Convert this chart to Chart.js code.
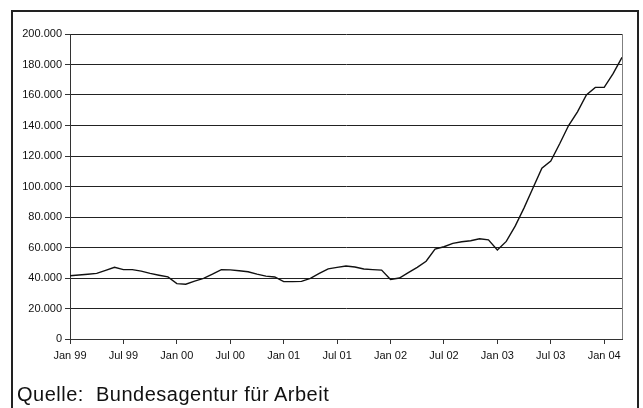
<!DOCTYPE html>
<html>
<head>
<meta charset="utf-8">
<script src="https://cdn.jsdelivr.net/npm/chart.js@4.4.1/dist/chart.umd.min.js"></script>
<style>
  html, body { margin: 0; padding: 0; background: #fff; width: 643px; height: 408px; overflow: hidden; }
  #wrap { position: relative; width: 643px; height: 408px; }
  #frame { position: absolute; left: 11px; top: 10px; width: 624px; height: 420px; border: 2px solid #222; border-bottom: none; box-sizing: content-box; }
  canvas { position: absolute; left: 0; top: 0; }
  #source { position: absolute; left: 17px; top: 383px; font-family: "Liberation Sans", Arial, sans-serif; font-size: 20px; color: #111; white-space: pre; letter-spacing: 0.5px; }
</style>
</head>
<body>
<div id="wrap">
  <div id="frame"></div>
  <canvas id="c" width="643" height="408"></canvas>
  <div id="source">Quelle:  Bundesagentur für Arbeit</div>
</div>
<script>
// Months Jan 1999 – Mar 2004
const months = [
  'Jan 99','Feb 99','Mrz 99','Apr 99','Mai 99','Jun 99','Jul 99','Aug 99','Sep 99','Okt 99','Nov 99','Dez 99',
  'Jan 00','Feb 00','Mrz 00','Apr 00','Mai 00','Jun 00','Jul 00','Aug 00','Sep 00','Okt 00','Nov 00','Dez 00',
  'Jan 01','Feb 01','Mrz 01','Apr 01','Mai 01','Jun 01','Jul 01','Aug 01','Sep 01','Okt 01','Nov 01','Dez 01',
  'Jan 02','Feb 02','Mrz 02','Apr 02','Mai 02','Jun 02','Jul 02','Aug 02','Sep 02','Okt 02','Nov 02','Dez 02',
  'Jan 03','Feb 03','Mrz 03','Apr 03','Mai 03','Jun 03','Jul 03','Aug 03','Sep 03','Okt 03','Nov 03','Dez 03',
  'Jan 04','Feb 04','Mrz 04'
];

const values = [
  41500, 42000, 42500, 43000, 45000, 47000, 45500, 45500, 44500, 43000, 41800, 40700,
  36300, 35900, 38000, 39800, 42500, 45500, 45300, 44800, 44100, 42500, 41200, 40700,
  37600, 37600, 37800, 39800, 43000, 46000, 47000, 47900, 47200, 45900, 45500, 45200,
  39000, 40000, 43500, 47000, 51000, 59000, 60500, 62700, 63800, 64400, 65700, 65000,
  58400, 64000, 74000, 86000, 99000, 112000, 116700, 128000, 140000, 149000, 160000, 165000,
  165000, 174000, 184700
];

const xTickLabels = ['Jan 99','Jul 99','Jan 00','Jul 00','Jan 01','Jul 01','Jan 02','Jul 02','Jan 03','Jul 03','Jan 04'];
const yTickValues = [0, 20000, 40000, 60000, 80000, 100000, 120000, 140000, 160000, 180000, 200000];
const yTickLabels = ['0','20.000','40.000','60.000','80.000','100.000','120.000','140.000','160.000','180.000','200.000'];

const plotBorder = {
  id: 'plotBorder',
  afterDraw(chart) {
    const a = chart.chartArea, ctx = chart.ctx;
    ctx.save();
    ctx.strokeStyle = '#808080';
    ctx.lineWidth = 1;
    ctx.beginPath();
    ctx.moveTo(Math.round(a.right) + 0.5, a.top);
    ctx.lineTo(Math.round(a.right) + 0.5, a.bottom);
    ctx.stroke();
    ctx.restore();
  }
};

new Chart(document.getElementById('c'), {
  type: 'line',
  data: {
    labels: months,
    datasets: [{
      data: values,
      borderColor: '#111',
      borderWidth: 1.4,
      pointRadius: 0,
      tension: 0,
      fill: false
    }]
  },
  options: {
    responsive: false,
    animation: false,
    layout: { padding: { left: 0, right: 21, top: 34, bottom: 0 } },
    plugins: { legend: { display: false }, tooltip: { enabled: false } },
    scales: {
      x: {
        type: 'category',
        offset: false,
        afterFit(s) { s.height = 69; },
        grid: { display: true, drawOnChartArea: false, drawTicks: true, tickLength: 5, color: '#333', tickColor: '#333' },
        border: { display: true, color: '#333', width: 1 },
        ticks: {
          autoSkip: false,
          maxRotation: 0,
          minRotation: 0,
          padding: 5,
          color: '#111',
          font: { family: '"Liberation Sans", Arial, sans-serif', size: 11 },
          callback(v, i) {
            const l = months[i];
            return xTickLabels.includes(l) ? l : null;
          }
        }
      },
      y: {
        min: 0,
        max: 200000,
        afterFit(s) { s.width = 70; },
        afterBuildTicks(s) { s.ticks = yTickValues.map(v => ({ value: v })); },
        grid: { color: '#222', lineWidth: 1, drawTicks: true, tickLength: 5, tickColor: '#333' },
        border: { display: true, color: '#333', width: 1 },
        ticks: {
          padding: 3,
          color: '#111',
          font: { family: '"Liberation Sans", Arial, sans-serif', size: 11 },
          callback(v) {
            const i = yTickValues.indexOf(v);
            return i >= 0 ? yTickLabels[i] : '';
          }
        }
      }
    }
  },
  plugins: [plotBorder]
});
</script>
</body>
</html>
